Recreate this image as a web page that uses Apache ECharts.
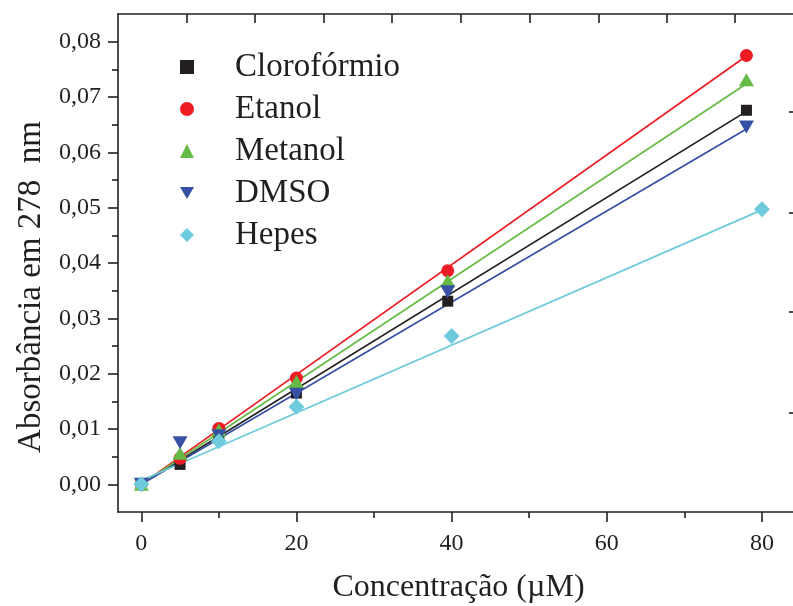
<!DOCTYPE html>
<html>
<head>
<meta charset="utf-8">
<script src="https://cdn.jsdelivr.net/npm/echarts@6/dist/echarts.min.js"></script>
<style>
html,body{margin:0;padding:0;background:#fff;}
#c{width:793px;height:606px;}
</style>
</head>
<body>
<div id="c"></div>
<script>
// ---- data ----
var seriesNames = ['Clorofórmio', 'Etanol', 'Metanol', 'DMSO', 'Hepes'];
var concSolv = [0, 5, 10, 20, 39.5, 78];
var concHepes = [0, 10, 20, 40, 80];
var cloroformio = [0, 0.0036, 0.0090, 0.0165, 0.0331, 0.0676];
var etanol      = [0, 0.0047, 0.0101, 0.0192, 0.0386, 0.0775];
var metanol     = [0, 0.0056, 0.0098, 0.0186, 0.0368, 0.0731];
var dmso        = [0, 0.0075, 0.0088, 0.0163, 0.0348, 0.0646];
var hepes       = [0, 0.0078, 0.0140, 0.0268, 0.0497];
// linear-fit line endpoints
var fitXSolv = [0, 78];
var fitXHepes = [0, 80];
var fitCloroformio = [0, 0.0674];
var fitEtanol      = [0, 0.0774];
var fitMetanol     = [0, 0.0724];
var fitDmso        = [0, 0.0642];
var fitHepes       = [0.0007, 0.0496];
// tick values
var xMajorTicks = [0, 20, 40, 60, 80];
var xMinorTicks = [10, 30, 50, 70];
var yMajorTicks = [0, 0.01, 0.02, 0.03, 0.04, 0.05, 0.06, 0.07, 0.08];
var yMinorTicks = [0.005, 0.015, 0.025, 0.035, 0.045, 0.055, 0.065, 0.075];
var topTicks = [5.89, 14.65, 23.55, 32.3, 41.2, 50.04, 58.9, 67.7, 76.5];
var rightTicks = [0.0129, 0.0311, 0.0490, 0.0673];

var colors = ['#231f20', '#ed1c24', '#66bb46', '#3651a3', '#6ecbdb'];
var symbols = ['rect', 'circle', 'triangle', 'triangle', 'diamond'];
var symbolSizes = [11, 13, [15, 13], [15, 13], [16, 16]];
var symbolRotates = [0, 0, 0, 180, 0];
var legendIcons = ['rect', 'circle', 'triangle', 'path://M0,0 L10,0 L5,8.7 Z', 'diamond'];

var values = [cloroformio, etanol, metanol, dmso, hepes];
var xs = [concSolv, concSolv, concSolv, concSolv, concHepes];
var fits = [fitCloroformio, fitEtanol, fitMetanol, fitDmso, fitHepes];
var fitXs = [fitXSolv, fitXSolv, fitXSolv, fitXSolv, fitXHepes];

var ink = '#231f20';
var serif = '"Liberation Serif", "DejaVu Serif", serif';

function pairs(x, y) { return x.map(function (v, i) { return [v, y[i]]; }); }

var series = [];
for (var i = 0; i < 5; i++) {
  series.push({
    type: 'line', name: seriesNames[i] + ' fit', xAxisIndex: 0, yAxisIndex: 0,
    data: pairs(fitXs[i], fits[i]), showSymbol: false, symbol: 'none',
    lineStyle: { color: colors[i], width: 1.7 }, silent: true, z: 2, animation: false
  });
}
for (var j = 0; j < 5; j++) {
  series.push({
    type: 'scatter', name: seriesNames[j], xAxisIndex: 0, yAxisIndex: 0,
    data: pairs(xs[j], values[j]), symbol: symbols[j], symbolSize: symbolSizes[j],
    symbolRotate: symbolRotates[j],
    itemStyle: { color: colors[j], opacity: 1 }, z: 3 + j, animation: false
  });
}

var xRange = { min: -3, max: 84 };
var yRange = { min: -0.005, max: 0.085 };

var option = {
  backgroundColor: '#ffffff',
  animation: false,
  grid: { left: 118, top: 14, right: 0, bottom: 94, containLabel: false, outerBoundsMode: 'none' },
  legend: {
    orient: 'vertical', left: 175, top: 44, itemGap: 6,
    itemWidth: 14, itemHeight: 14,
    data: seriesNames.map(function (n, k) {
      return { name: n, icon: legendIcons[k], itemStyle: { color: colors[k] } };
    }),
    textStyle: { fontFamily: serif, fontSize: 33, color: ink, lineHeight: 36, padding: [0, 0, 0, 36] }
  },
  xAxis: [
    {
      type: 'value', position: 'bottom', min: xRange.min, max: xRange.max,
      name: 'Concentração (µM)', nameLocation: 'middle', nameGap: 60,
      nameTextStyle: { fontFamily: serif, fontSize: 32, color: ink, padding: [0, 0, 0, 6] },
      axisLine: { show: true, onZero: false, lineStyle: { color: ink, width: 1.6 } },
      axisTick: { show: true, inside: false, length: 10, customValues: xMajorTicks, lineStyle: { color: ink, width: 1.6 } },
      axisLabel: { show: true, customValues: xMajorTicks, margin: 20, fontFamily: serif, fontSize: 24, color: ink },
      splitLine: { show: false }
    },
    {
      type: 'value', position: 'bottom', min: xRange.min, max: xRange.max,
      axisLine: { show: false, onZero: false },
      axisTick: { show: true, inside: false, length: 6, customValues: xMinorTicks, lineStyle: { color: ink, width: 1.6 } },
      axisLabel: { show: false }, splitLine: { show: false }
    },
    {
      type: 'value', position: 'top', min: xRange.min, max: xRange.max,
      axisLine: { show: true, onZero: false, lineStyle: { color: ink, width: 1.6 } },
      axisTick: { show: true, inside: true, length: 9, customValues: topTicks, lineStyle: { color: ink, width: 1.6 } },
      axisLabel: { show: false }, splitLine: { show: false }
    }
  ],
  yAxis: [
    {
      type: 'value', position: 'left', min: yRange.min, max: yRange.max,
      name: 'Absorbância em 278  nm', nameLocation: 'middle', nameGap: 68, nameRotate: 90,
      nameTextStyle: { fontFamily: serif, fontSize: 33, color: ink, padding: [0, 48, 0, 0] },
      axisLine: { show: true, onZero: false, lineStyle: { color: ink, width: 1.6 } },
      axisTick: { show: true, inside: false, length: 10, customValues: yMajorTicks, lineStyle: { color: ink, width: 1.6 } },
      axisLabel: {
        show: true, customValues: yMajorTicks, margin: 17, fontFamily: serif, fontSize: 24, color: ink,
        formatter: function (v) { return v.toFixed(2).replace('.', ','); }
      },
      splitLine: { show: false }
    },
    {
      type: 'value', position: 'left', min: yRange.min, max: yRange.max,
      axisLine: { show: false, onZero: false },
      axisTick: { show: true, inside: false, length: 6, customValues: yMinorTicks, lineStyle: { color: ink, width: 1.6 } },
      axisLabel: { show: false }, splitLine: { show: false }
    },
    {
      type: 'value', position: 'right', min: yRange.min, max: yRange.max,
      axisLine: { show: false, onZero: false },
      axisTick: { show: true, inside: true, length: 4, customValues: rightTicks, lineStyle: { color: ink, width: 1.6 } },
      axisLabel: { show: false }, splitLine: { show: false }
    }
  ],
  series: series
};

var chart = echarts.init(document.getElementById('c'), null, { renderer: 'canvas' });
chart.setOption(option);
</script>
</body>
</html>
